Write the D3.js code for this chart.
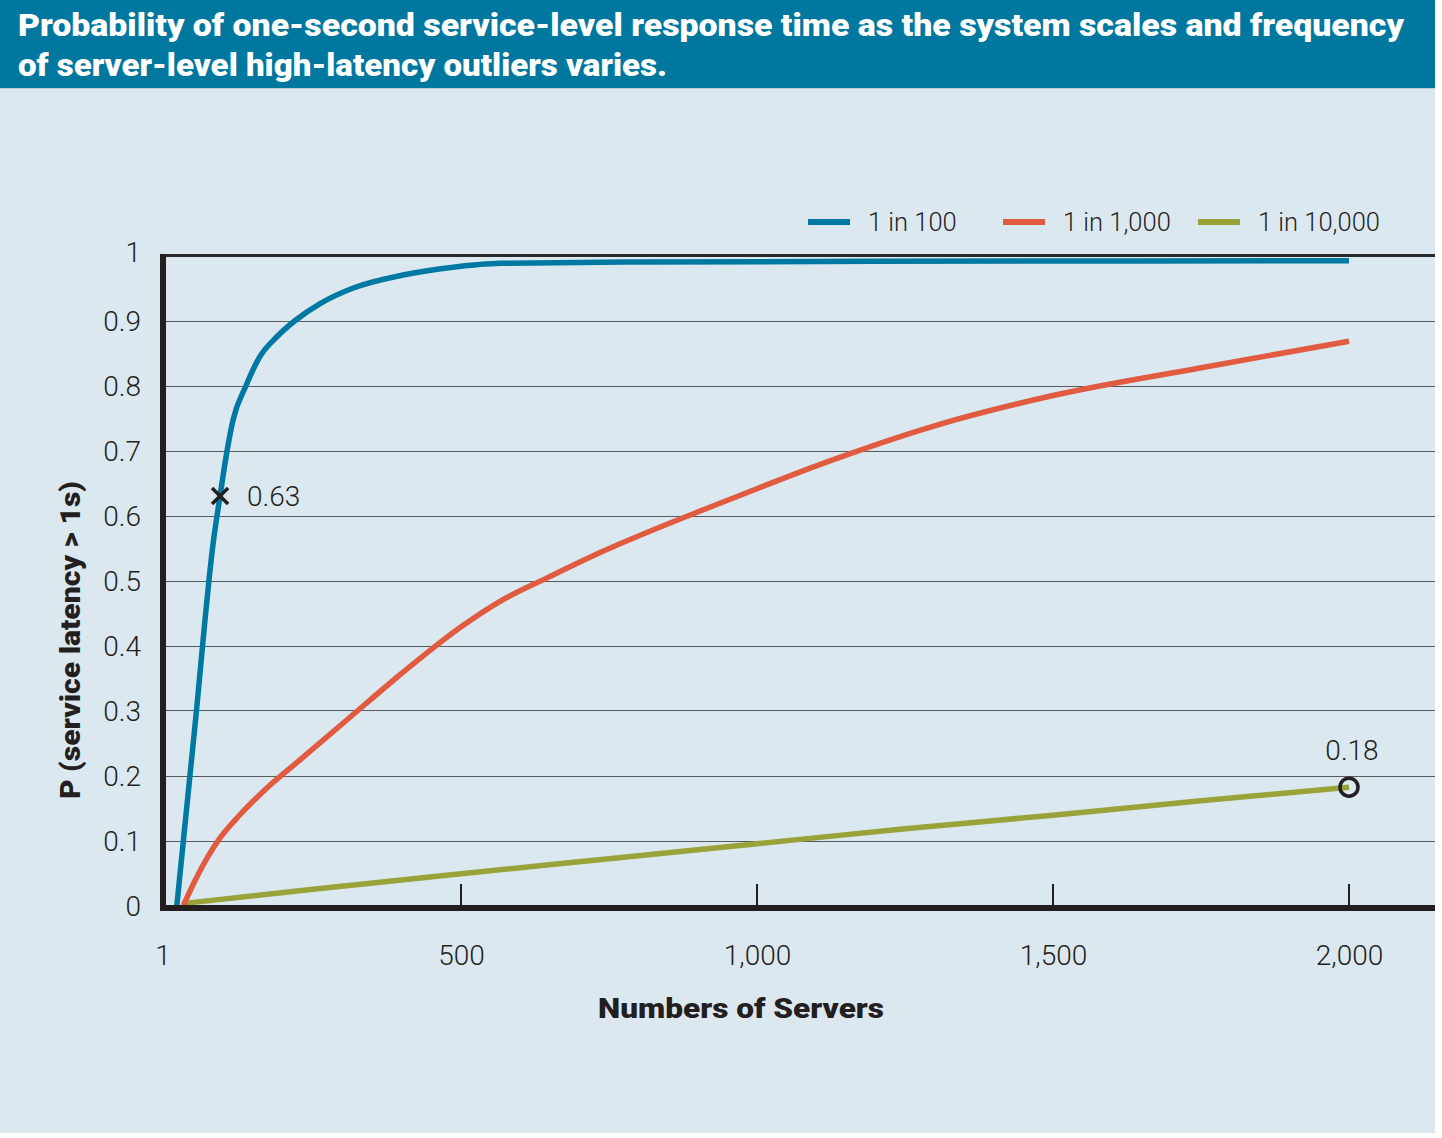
<!DOCTYPE html>
<html>
<head>
<meta charset="utf-8">
<script src="https://cdn.jsdelivr.net/npm/d3@7"></script>
<style>
  html, body { margin: 0; padding: 0; background: #ffffff; }
  svg { display: block; }
  text { font-family: Roboto, "Noto Sans", sans-serif; }
</style>
</head>
<body>
<svg id="chart" width="1442" height="1138"></svg>
<script>
// ---------- data ----------
const titleLines = [
  "Probability of one-second service-level response time as the system scales and frequency",
  "of server-level high-latency outliers varies."
];
const seriesNames = ["1 in 100", "1 in 1,000", "1 in 10,000"];
const seriesColors = ["#0079a2", "#e05b3f", "#9aa33a"];

const servers100 = [20, 51, 82, 93, 104, 115, 137, 160, 189, 220, 262, 318, 402, 487, 566, 800, 1200, 2000];
const prob100    = [0, 0.28, 0.562, 0.63, 0.695, 0.747, 0.80, 0.844, 0.875, 0.90, 0.926, 0.95, 0.97, 0.982, 0.988, 0.990, 0.991, 0.992];

const servers1000 = [31, 51, 71, 93, 127, 169, 228, 313, 397, 502, 566, 650, 735, 904, 1002, 1123, 1300, 1502, 1748, 2000];
const prob1000    = [0, 0.039, 0.073, 0.104, 0.14, 0.178, 0.224, 0.29, 0.355, 0.43, 0.468, 0.506, 0.543, 0.607, 0.642, 0.684, 0.738, 0.785, 0.827, 0.868];

const servers10000 = [30, 250, 500, 750, 1000, 1250, 1500, 1750, 2000];
const prob10000    = [0.003, 0.025, 0.049, 0.072, 0.095, 0.118, 0.139, 0.161, 0.182];

const xTickValues = [1, 500, 1000, 1500, 2000];
const xTickLabels = ["1", "500", "1,000", "1,500", "2,000"];
const yTickValues = [0, 0.1, 0.2, 0.3, 0.4, 0.5, 0.6, 0.7, 0.8, 0.9, 1];
const yTickLabels = ["0", "0.1", "0.2", "0.3", "0.4", "0.5", "0.6", "0.7", "0.8", "0.9", "1"];

const annoCross = { n: 93, p: 0.63, label: "0.63" };
const annoCircle = { n: 2000, p: 0.182, label: "0.18" };

const xTitle = "Numbers of Servers";
const yTitle = "P (service latency > 1s)";

// ---------- layout ----------
const svg = d3.select("#chart");
const panelW = 1435, panelH = 1133, barH = 88;
const plotLeft = 163, plotRight = 1435, plotBottom = 908;
const ink = "#231f20";

const x = d3.scaleLinear().domain([0, 2000]).range([165, 1349]);
const y = d3.scaleLinear().domain([0, 1]).range([905.5, 255.5]);

// background
svg.append("rect").attr("x", 0).attr("y", 0).attr("width", panelW).attr("height", panelH).attr("fill", "#dce8f0");
svg.append("rect").attr("x", 0).attr("y", 0).attr("width", panelW).attr("height", barH).attr("fill", "#00779f");
svg.append("line").attr("x1", 0).attr("x2", panelW).attr("y1", barH + 0.5).attr("y2", barH + 0.5)
  .attr("stroke", "#b8cfdc").attr("stroke-width", 1);

// title
const titleWidths = [1386, 649];
titleLines.forEach((t, i) => {
  svg.append("text")
    .attr("x", 18).attr("y", 36 + i * 40)
    .attr("fill", "#ffffff")
    .attr("font-size", 31).attr("font-weight", 900)
    .attr("textLength", titleWidths[i]).attr("lengthAdjust", "spacingAndGlyphs")
    .text(t);
});

// gridlines
svg.append("g").selectAll("line")
  .data(yTickValues.filter(v => v > 0 && v < 1))
  .join("line")
  .attr("x1", plotLeft).attr("x2", plotRight)
  .attr("y1", d => Math.round(y(d)) + 0.5).attr("y2", d => Math.round(y(d)) + 0.5)
  .attr("stroke", "#555b60").attr("stroke-width", 1);

// top frame line
svg.append("line").attr("x1", plotLeft).attr("x2", plotRight).attr("y1", y(1)).attr("y2", y(1))
  .attr("stroke", "#2a2a2a").attr("stroke-width", 3);

// y tick labels
svg.append("g").selectAll("text")
  .data(yTickValues)
  .join("text")
  .attr("x", 141).attr("y", d => y(d))
  .attr("dy", d => d === 1 ? "0.22em" : "0.36em")
  .attr("text-anchor", "end")
  .attr("font-size", 28).attr("font-weight", 300).attr("fill", ink)
  .text((d, i) => yTickLabels[i]);

// x tick marks & labels
const xAxis = d3.axisBottom(x).tickValues(xTickValues).tickSize(0).tickFormat((d, i) => xTickLabels[i]);
const gx = svg.append("g").attr("transform", `translate(0,${plotBottom})`).call(xAxis);
gx.select(".domain").remove();
gx.selectAll("text").attr("font-size", 28).attr("font-weight", 300).attr("fill", ink)
  .attr("font-family", "Roboto, sans-serif").attr("dy", 0).attr("y", 57);
gx.selectAll(".tick").filter(d => d === 1).select("text").attr("dx", -3);
svg.append("g").selectAll("line")
  .data(xTickValues.filter(v => v > 1))
  .join("line")
  .attr("x1", d => x(d)).attr("x2", d => x(d))
  .attr("y1", 884).attr("y2", plotBottom)
  .attr("stroke", ink).attr("stroke-width", 2);

// series
const series = [
  { n: servers100, p: prob100 },
  { n: servers1000, p: prob1000 },
  { n: servers10000, p: prob10000 }
];
const line = d3.line().x(d => x(d[0])).y(d => y(d[1])).curve(d3.curveMonotoneX);
series.slice().reverse().forEach((s, ri) => {
  const i = series.length - 1 - ri;
  svg.append("path")
    .datum(s.n.map((v, k) => [v, s.p[k]]))
    .attr("d", line)
    .attr("fill", "none")
    .attr("stroke", seriesColors[i])
    .attr("stroke-width", 5.5);
});

// axes lines (thick)
svg.append("line").attr("x1", plotLeft).attr("x2", plotLeft).attr("y1", 254).attr("y2", 911)
  .attr("stroke", ink).attr("stroke-width", 6);
svg.append("line").attr("x1", 160).attr("x2", plotRight).attr("y1", plotBottom).attr("y2", plotBottom)
  .attr("stroke", ink).attr("stroke-width", 6);

// annotations
const cx = x(annoCross.n), cy = y(annoCross.p);
const s = 8;
svg.append("path")
  .attr("d", `M${cx - s},${cy - s}L${cx + s},${cy + s}M${cx - s},${cy + s}L${cx + s},${cy - s}`)
  .attr("stroke", ink).attr("stroke-width", 3.5).attr("fill", "none");
svg.append("text").attr("x", cx + 27).attr("y", cy).attr("dy", "0.36em")
  .attr("font-size", 28).attr("font-weight", 300).attr("fill", ink).text(annoCross.label);

const ox = x(annoCircle.n), oy = y(annoCircle.p);
svg.append("circle").attr("cx", ox).attr("cy", oy).attr("r", 9)
  .attr("fill", "none").attr("stroke", ink).attr("stroke-width", 3.5);
svg.append("text").attr("x", ox + 3).attr("y", oy - 27)
  .attr("text-anchor", "middle")
  .attr("font-size", 28).attr("font-weight", 300).attr("fill", ink).text(annoCircle.label);

// legend
const legendX = [808, 1003, 1198];
const legend = svg.append("g");
seriesNames.forEach((name, i) => {
  legend.append("line").attr("x1", legendX[i]).attr("x2", legendX[i] + 42)
    .attr("y1", 222).attr("y2", 222)
    .attr("stroke", seriesColors[i]).attr("stroke-width", 6);
  legend.append("text").attr("x", legendX[i] + 60).attr("y", 222).attr("dy", "0.36em")
    .attr("font-size", 25.5).attr("font-weight", 300).attr("fill", ink).text(name);
});

// axis titles
svg.append("text").attr("x", 741).attr("y", 1018).attr("text-anchor", "middle")
  .attr("font-size", 28).attr("font-weight", 900).attr("fill", ink)
  .attr("textLength", 286).attr("lengthAdjust", "spacingAndGlyphs").text(xTitle);
svg.append("text")
  .attr("transform", "translate(80,640) rotate(-90)")
  .attr("text-anchor", "middle")
  .attr("font-size", 27).attr("font-weight", 900).attr("fill", ink)
  .attr("textLength", 318).attr("lengthAdjust", "spacingAndGlyphs").text(yTitle);
</script>
</body>
</html>
